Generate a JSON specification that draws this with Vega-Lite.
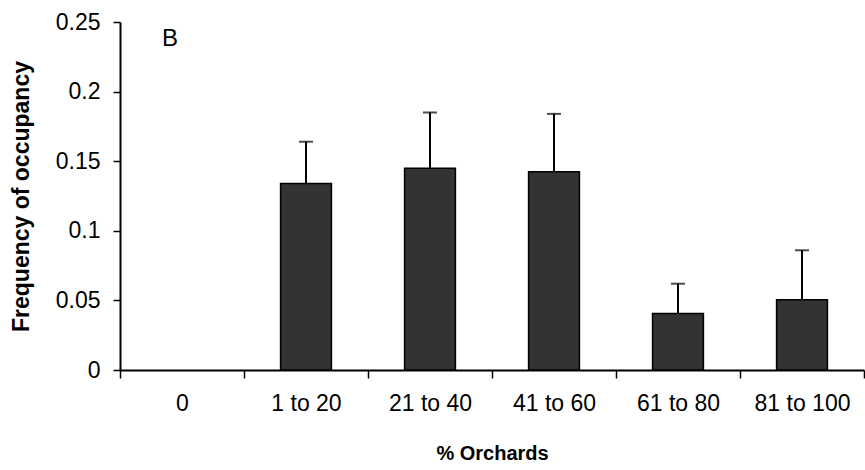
{
  "$schema": "https://vega.github.io/schema/vega-lite/v6.json",
  "width": 744,
  "height": 348,
  "autosize": "none",
  "padding": {"left": 120, "top": 22, "right": 1, "bottom": 100},
  "background": "white",
  "config": {
    "font": "Liberation Sans",
    "view": {"stroke": null},
    "axis": {"domainColor": "black", "tickColor": "black", "labelColor": "black", "titleColor": "black", "grid": false}
  },
  "data": {
    "values": [
      {"cat": "0", "value": 0, "upper": null},
      {"cat": "1 to 20", "value": 0.134, "upper": 0.164},
      {"cat": "21 to 40", "value": 0.145, "upper": 0.185},
      {"cat": "41 to 60", "value": 0.1425, "upper": 0.184},
      {"cat": "61 to 80", "value": 0.0405, "upper": 0.062},
      {"cat": "81 to 100", "value": 0.0505, "upper": 0.086}
    ]
  },
  "encoding": {
    "x": {
      "field": "cat", "type": "nominal", "sort": null,
      "scale": {"paddingInner": 0, "paddingOuter": 0},
      "axis": {
        "title": "% Orchards", "titleFontSize": 20, "titleFontWeight": "bold", "titlePadding": 28,
        "labelAngle": 0, "labelFontSize": 23, "labelPadding": 14, "tickSize": 8, "tickWidth": 1.5,
        "domainWidth": 2, "tickBand": "extent"
      }
    }
  },
  "layer": [
    {
      "mark": {"type": "bar", "color": "#333333", "stroke": "black", "strokeWidth": 1.5, "width": {"band": 0.41}},
      "encoding": {
        "y": {
          "field": "value", "type": "quantitative",
          "scale": {"domain": [0, 0.25], "nice": false},
          "axis": {
            "title": "Frequency of occupancy", "titleFontSize": 23, "titleFontWeight": "bold", "titlePadding": 22,
            "values": [0, 0.05, 0.1, 0.15, 0.2, 0.25], "format": "~g",
            "labelFontSize": 23, "labelPadding": 13, "tickSize": 7, "tickWidth": 1.5, "domainWidth": 2
          }
        },
        "strokeOpacity": {"condition": {"test": "datum.value == 0", "value": 0}, "value": 1}
      }
    },
    {
      "mark": {"type": "rule", "color": "black", "strokeWidth": 2},
      "encoding": {
        "y": {"field": "value", "type": "quantitative"},
        "y2": {"field": "upper"}
      }
    },
    {
      "transform": [{"filter": "datum.upper != null"}],
      "mark": {"type": "tick", "color": "black", "thickness": 2, "size": 14},
      "encoding": {
        "y": {"field": "upper", "type": "quantitative"}
      }
    },
    {
      "data": {"values": [{"cat": "0", "y": 0.238, "label": "B"}]},
      "mark": {"type": "text", "fontSize": 24, "color": "black", "dx": -12, "baseline": "middle"},
      "encoding": {
        "y": {"field": "y", "type": "quantitative"},
        "text": {"field": "label"}
      }
    }
  ]
}
